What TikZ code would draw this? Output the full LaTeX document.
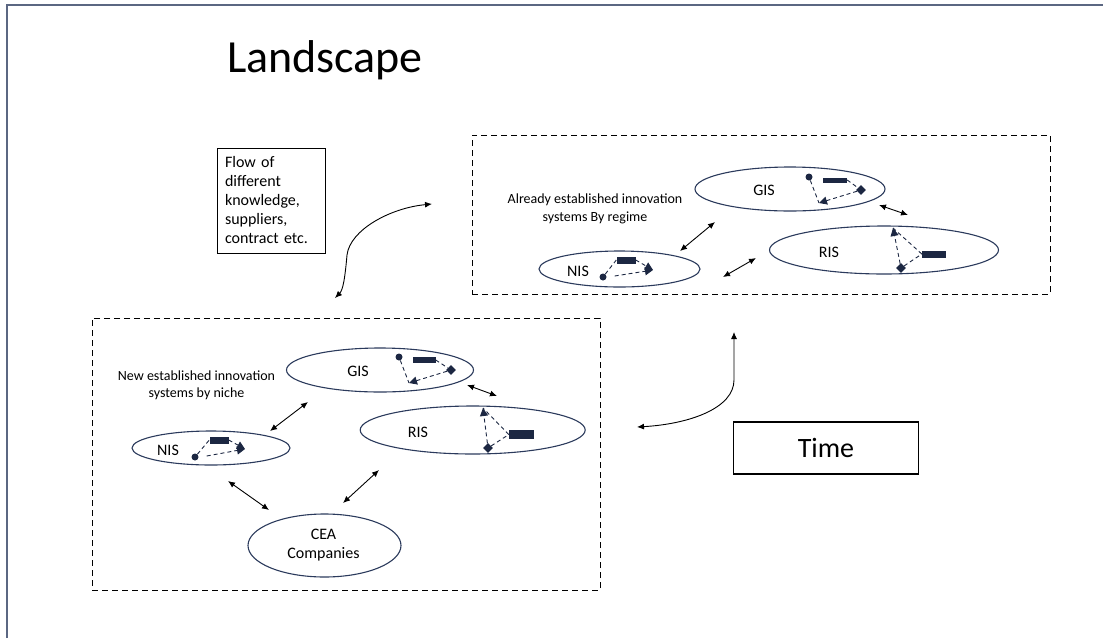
\documentclass[tikz,border=0pt]{standalone}
\usepackage{fontspec}
\setmainfont{Carlito}
\definecolor{FrameGray}{HTML}{5B6782}
\definecolor{DeepNavy}{HTML}{2B3A5C}
\definecolor{SymNavy}{HTML}{1C2742}
\usetikzlibrary{arrows.meta,positioning,shapes.geometric}

\begin{document}
\begin{tikzpicture}[x=1pt,y=-1pt,>={Latex[length=7pt,width=6pt]}]
\tikzstyle{sys}=[draw=DeepNavy,line width=1.1pt,ellipse,inner sep=0pt]
\tikzstyle{syslbl}=[font=\fontsize{16}{19}\selectfont,inner sep=0pt]
\tikzstyle{lbl}=[font=\fontsize{14}{17.5}\selectfont,align=center,inner sep=0pt]
\tikzstyle{region}=[draw,dash pattern=on 6pt off 4pt,line width=0.9pt]
\tikzstyle{dot}=[circle,fill=SymNavy,inner sep=0pt,minimum size=7pt]
\tikzstyle{bar}=[rectangle,fill=SymNavy,inner sep=0pt,minimum width=22pt,minimum height=6pt]
\tikzstyle{gem}=[diamond,fill=SymNavy,inner sep=0pt,minimum size=10pt]
\tikzstyle{link}=[draw=SymNavy,line width=0.9pt,dash pattern=on 4pt off 3pt]
\tikzstyle{tip}=[-{Triangle[length=8pt,width=8pt]},SymNavy]
\tikzstyle{twoway}=[<->,line width=0.9pt]
\useasboundingbox (0,0) rectangle (1103,638);
\draw[FrameGray,line width=2pt] (7,638) -- (7,4.5) -- (1103,4.5);
\node[font=\fontsize{46}{50}\selectfont,inner sep=0pt] (title) at (325,60) {Landscape};
\node[draw,line width=0.9pt,align=left,text width=92pt,inner xsep=8pt,minimum width=108pt,minimum height=105pt,font=\fontsize{16}{19}\selectfont] (flow) at (271,200.5) {Flow of\\different\\knowledge,\\suppliers,\\contract etc.};
\node[draw,line width=1.1pt,minimum width=185pt,minimum height=52pt,font=\fontsize{28}{32}\selectfont] (time) at (826,448) {Time};

\node[region,minimum width=578pt,minimum height=159pt] (regime) at (761,214.5) {};
\node[region,minimum width=508pt,minimum height=272pt] (niche) at (346,454) {};

\node[lbl] (regtxt) at (595,209) {Already established innovation\\systems By regime};
\node[sys,minimum width=190pt,minimum height=44pt] (gisA) at (790,189) {};
\node[syslbl] at (764,190) {GIS};
\node[sys,minimum width=229pt,minimum height=48pt] (risA) at (884,250) {};
\node[syslbl] at (829,252) {RIS};
\node[sys,minimum width=161pt,minimum height=36pt] (nisA) at (619.5,269) {};
\node[syslbl] at (578,271) {NIS};

\node[lbl] (nichetxt) at (196.5,385.5) {New established innovation\\systems by niche};
\node[sys,minimum width=187pt,minimum height=44pt] (gisB) at (380,370) {};
\node[syslbl] at (358,371) {GIS};
\node[sys,minimum width=225pt,minimum height=48pt] (risB) at (472.7,430) {};
\node[syslbl] at (418,432) {RIS};
\node[sys,minimum width=158pt,minimum height=34pt] (nisB) at (211,448) {};
\node[syslbl] at (168,450) {NIS};
\node[sys,minimum width=153pt,minimum height=63pt] (cea) at (324.5,545.5) {};
\node[lbl,font=\fontsize{16}{19}\selectfont] at (323.5,545.5) {CEA\\Companies};

\node[dot] (gAc) at (809,177) {};
\node[bar,minimum width=24pt,minimum height=5pt] (gAb) at (835,180) {};
\node[gem] (gAd) at (861,190) {};
\coordinate (gAt) at (819,203);
\draw[link] (gAc) -- (gAt);
\draw[link] (gAb.east) -- (gAd);
\draw[link,tip] (gAd) -- (gAt);

\coordinate (rAt) at (893,228);
\node[bar,minimum width=24pt,minimum height=7pt] (rAb) at (934,254) {};
\node[gem] (rAd) at (901,268) {};
\draw[link] (rAb.west) -- (rAt);
\draw[link] (rAd) -- (rAb.west);
\draw[link,tip] (rAd) -- (rAt);

\node[bar,minimum width=19pt,minimum height=7pt] (nAb) at (626,260) {};
\node[dot] (nAc) at (603,277) {};
\coordinate (nAt) at (653,270);
\draw[link] (nAc) -- (nAb.west);
\draw[link,tip] (nAb.east) -- (nAt);
\draw[link,tip] (nAc.east) ++(8,-1) coordinate (nAs) (nAs) -- (nAt);

\node[dot] (gBc) at (399,357) {};
\node[bar,minimum width=23pt,minimum height=6pt] (gBb) at (424,360) {};
\node[gem] (gBd) at (451,370) {};
\coordinate (gBt) at (409,383);
\draw[link] (gBc) -- (gBt);
\draw[link] (gBb.east) -- (gBd);
\draw[link,tip] (gBd) -- (gBt);

\coordinate (rBt) at (483,408);
\node[bar,minimum width=25pt,minimum height=9pt] (rBb) at (521.5,434.5) {};
\node[gem] (rBd) at (488,448) {};
\draw[link] (rBb.west) -- (rBt);
\draw[link] (rBd) -- (rBb.west);
\draw[link,tip] (rBd) -- (rBt);

\node[bar,minimum width=19pt,minimum height=7pt] (nBb) at (219,440) {};
\node[dot] (nBc) at (195,457) {};
\coordinate (nBt) at (245,449);
\draw[link] (nBc) -- (nBb.west);
\draw[link,tip] (nBb.east) -- (nBt);
\draw[link,tip] (nBc.east) ++(8,-1) coordinate (nBs) (nBs) -- (nBt);

\coordinate (a1) at (680,251);
\coordinate (a2) at (715,222);
\coordinate (a3) at (879,205);
\coordinate (a4) at (908,215);
\coordinate (a5) at (723,277);
\coordinate (a6) at (756,258);
\draw[twoway] (a1) -- (a2);
\draw[twoway] (a3) -- (a4);
\draw[twoway] (a5) -- (a6);

\coordinate (b1) at (270,431);
\coordinate (b2) at (308,402);
\coordinate (b3) at (467,385);
\coordinate (b4) at (497,396);
\coordinate (b5) at (228,481);
\coordinate (b6) at (269,510);
\coordinate (b7) at (343,503);
\coordinate (b8) at (379,470);
\draw[twoway] (b1) -- (b2);
\draw[twoway] (b3) -- (b4);
\draw[twoway] (b5) -- (b6);
\draw[twoway] (b7) -- (b8);

\coordinate (fa) at (432,204);
\coordinate (fb) at (335,298);
\draw[twoway] (fa) .. controls (390,208) and (350,230) .. (347,255) .. controls (345,278) and (343,290) .. (fb);
\coordinate (ta) at (734,332);
\coordinate (tb) at (637,427);
\draw[twoway] (ta) -- (734,380) .. controls (734,408) and (690,424) .. (tb);
\end{tikzpicture}
\end{document}
